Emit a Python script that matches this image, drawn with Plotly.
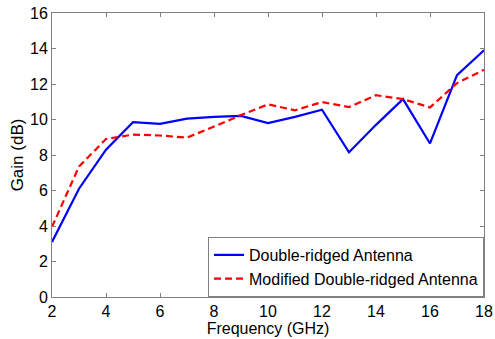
import plotly.graph_objects as go

# Frequency sweep (GHz) and measured gain (dB) for both antenna designs
freq_ghz = [2, 3, 4, 5, 6, 7, 8, 9, 10, 11, 12, 13, 14, 15, 16, 17, 18]
gain_double_ridged = [3.1, 6.1, 8.3, 9.85, 9.75, 10.05, 10.15, 10.2, 9.8, 10.15, 10.55,
                      8.15, 9.7, 11.15, 8.65, 12.5, 13.9]
gain_modified = [3.95, 7.35, 8.9, 9.15, 9.1, 8.98, 9.6, 10.25, 10.85, 10.52, 10.98,
                 10.7, 11.37, 11.15, 10.68, 12.05, 12.8]

x_ticks = [2, 4, 6, 8, 10, 12, 14, 16, 18]
y_ticks = [0, 2, 4, 6, 8, 10, 12, 14, 16]

font_family = "Liberation Sans, Arial, sans-serif"
font_size = 17

fig = go.Figure()
fig.add_trace(go.Scatter(
    x=freq_ghz, y=gain_double_ridged, mode="lines",
    name="Double-ridged Antenna",
    line=dict(color="#0000ff", width=2.2, dash="solid"),
))
fig.add_trace(go.Scatter(
    x=freq_ghz, y=gain_modified, mode="lines",
    name="Modified Double-ridged Antenna",
    line=dict(color="#ff0000", width=2.2, dash="7px,4px"),
))

axis_common = dict(
    showline=True, linecolor="#808080", linewidth=1, mirror="ticks",
    ticks="inside", ticklen=4, tickcolor="#808080",
    showgrid=False, zeroline=False, automargin=False,
    tickfont=dict(family=font_family, size=16, color="#000000"),
)

fig.update_layout(
    width=495, height=339,
    margin=dict(l=52, r=11, t=13, b=42),
    paper_bgcolor="white", plot_bgcolor="white",
    font=dict(family=font_family, color="#000000", size=font_size),
    showlegend=True,
    legend=dict(
        x=1, y=0, xanchor="right", yanchor="bottom",
        bgcolor="white", bordercolor="#808080", borderwidth=1,
        font=dict(family=font_family, size=16, color="#000000"),
        itemwidth=30, tracegroupgap=0,
    ),
    xaxis=dict(
        range=[2, 18], tickvals=x_ticks, ticktext=[str(v) for v in x_ticks],
        title=dict(text="Frequency (GHz)", font=dict(family=font_family, size=16), standoff=2),
        **axis_common,
    ),
    yaxis=dict(
        range=[0, 16], tickvals=y_ticks, ticktext=[str(v) for v in y_ticks],
        title=dict(text="Gain (dB)", font=dict(family=font_family, size=font_size), standoff=2),
        **axis_common,
    ),
)

fig.write_html("out.html")
